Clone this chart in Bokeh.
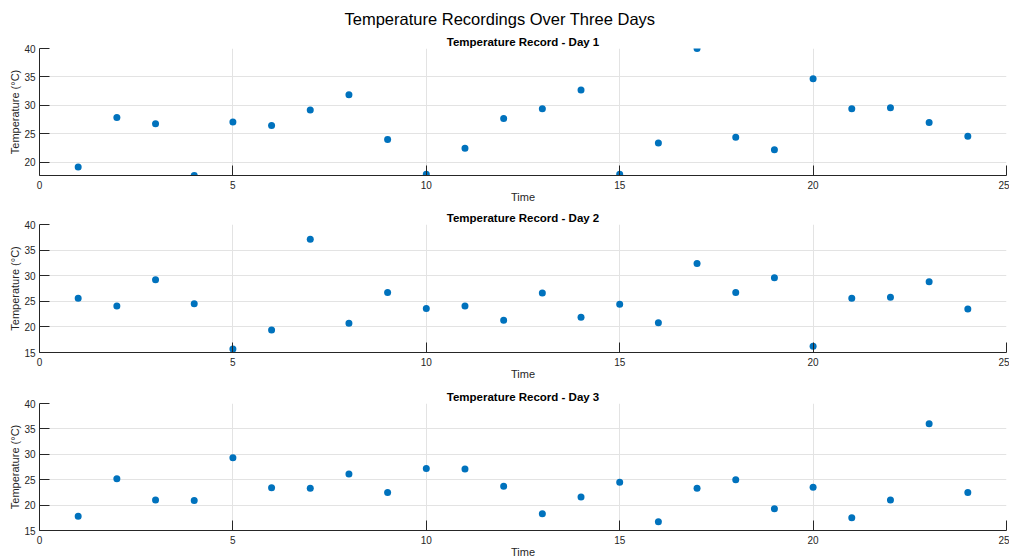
from bokeh.plotting import figure
from bokeh.layouts import column
from bokeh.models import Title, FixedTicker, Range1d
from bokeh.embed import file_html
from bokeh.resources import INLINE

hours = list(range(1, 25))
day1 = [19.2, 27.9, 26.8, 17.7, 27.1, 26.5, 29.2, 31.9, 24.0, 17.9, 22.5, 27.7,
        29.4, 32.7, 17.9, 23.4, 40.0, 24.4, 22.2, 34.7, 29.4, 29.6, 27.0, 24.6]
day2 = [25.6, 24.1, 29.2, 24.5, 15.7, 19.4, 37.1, 20.7, 26.7, 23.6, 24.1, 21.3,
        26.6, 21.9, 24.4, 20.8, 32.4, 26.7, 29.6, 16.2, 25.6, 25.8, 28.8, 23.5]
day3 = [17.8, 25.2, 21.0, 20.9, 29.3, 23.4, 23.3, 26.1, 22.5, 27.2, 27.1, 23.7,
        18.3, 21.6, 24.5, 16.7, 23.3, 25.0, 19.3, 23.5, 17.5, 21.0, 36.0, 22.5]
days = [day1, day2, day3]
day_names = ["Day 1", "Day 2", "Day 3"]
y_limits = [(17.7, 40), (15, 40), (15, 40)]
x_ticks = [0, 5, 10, 15, 20, 25]
y_ticks = [[20, 25, 30, 35, 40], [15, 20, 25, 30, 35, 40], [15, 20, 25, 30, 35, 40]]

FONT = "Liberation Sans"
DARK = "#262626"
GRID = "#e3e3e3"
BLUE = "#0072BD"

borders = [(48, 30), (19, 29), (21, 28)]
frame_heights = [127, 128, 127]

figs = []
for i in range(3):
    top, bottom = borders[i]
    p = figure(width=1009, height=top + frame_heights[i] + bottom,
               frame_width=967, frame_height=frame_heights[i],
               x_range=Range1d(0, 25), y_range=Range1d(*y_limits[i]),
               output_backend="svg", toolbar_location=None,
               min_border_left=39, min_border_right=3,
               min_border_top=top, min_border_bottom=bottom,
               title=None)
    p.outline_line_color = None
    p.background_fill_color = "white"
    p.border_fill_color = "white"

    if i == 0:
        main = Title(text="Temperature Recordings Over Three Days", align="left",
                     text_font=FONT, text_font_size="16.5px", text_font_style="normal",
                     text_color="black", offset=305, standoff=9)
        p.title = main
    sub = Title(text=f"Temperature Record - {day_names[i]}", align="center",
                text_font=FONT, text_font_size="11.5px", text_font_style="bold",
                text_color="black", standoff=2)
    p.add_layout(sub, "above")

    p.scatter(hours, days[i], size=7, fill_color=BLUE, line_color=None)

    p.xaxis.ticker = FixedTicker(ticks=x_ticks)
    p.yaxis.ticker = FixedTicker(ticks=y_ticks[i])
    p.xaxis.axis_label = "Time"
    p.yaxis.axis_label = "Temperature (°C)"
    for ax in (p.xaxis, p.yaxis):
        ax.axis_line_color = DARK
        ax.axis_line_width = 1
        ax.major_tick_line_color = DARK
        ax.major_tick_in = 10
        ax.major_tick_out = 0
        ax.minor_tick_line_color = None
        ax.major_label_text_font = FONT
        ax.major_label_text_font_size = "10px"
        ax.major_label_text_color = DARK
        ax.axis_label_text_font = FONT
        ax.axis_label_text_font_size = "11px"
        ax.axis_label_text_font_style = "normal"
        ax.axis_label_text_color = DARK
    p.xaxis.major_label_standoff = 5
    p.xaxis.axis_label_standoff = -1
    p.yaxis.major_label_standoff = 4
    p.yaxis.axis_label_standoff = 0

    p.xgrid.ticker = FixedTicker(ticks=x_ticks)
    p.ygrid.ticker = FixedTicker(ticks=y_ticks[i])
    p.grid.grid_line_color = GRID
    p.grid.grid_line_width = 1
    figs.append(p)

layout = column(*figs, spacing=0)
open("out.html", "w").write(file_html(layout, INLINE))
